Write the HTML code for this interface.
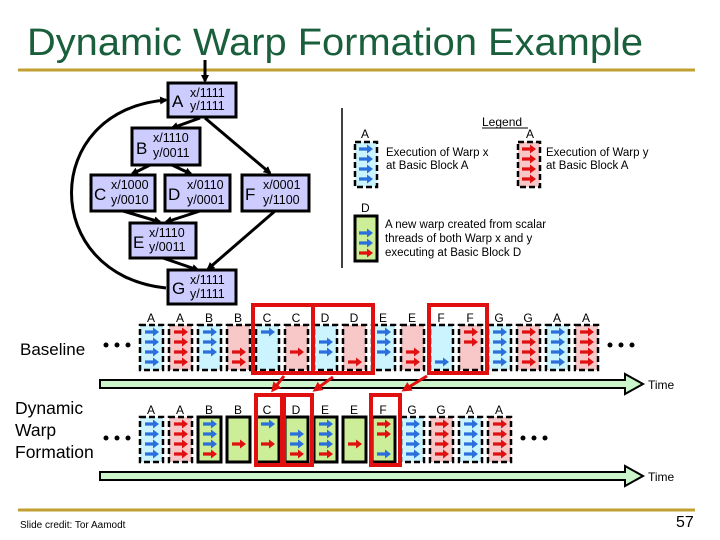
<!DOCTYPE html>
<html><head><meta charset="utf-8"><style>
html,body{margin:0;padding:0;background:#fff;}
svg{display:block;font-family:"Liberation Sans",Arial,sans-serif;}
</style></head><body>
<svg width="720" height="540" viewBox="0 0 720 540" xmlns="http://www.w3.org/2000/svg">
<defs>
<path id="ab" d="M0,-1.6 H8 V-4.5 L14,0 L8,4.5 V1.6 H0 Z" fill="#2a6fdc"/>
<path id="ar" d="M0,-1.6 H8 V-4.5 L14,0 L8,4.5 V1.6 H0 Z" fill="#e01010"/>
<marker id="mk" markerWidth="8" markerHeight="8" refX="6" refY="4" orient="auto" markerUnits="userSpaceOnUse"><path d="M0,0 L8,4 L0,8 Z" fill="#000"/></marker>
<marker id="mr" markerWidth="10" markerHeight="10" refX="7" refY="5" orient="auto" markerUnits="userSpaceOnUse"><path d="M0,0 L10,5 L0,10 Z" fill="#e01010"/></marker>
</defs>
<text x="27" y="55" font-size="38" fill="#1a5f3c" textLength="616" lengthAdjust="spacingAndGlyphs">Dynamic Warp Formation Example</text>
<line x1="18" y1="70" x2="695" y2="70" stroke="#c0a030" stroke-width="3"/>
<line x1="18" y1="510" x2="695" y2="510" stroke="#c0a030" stroke-width="3"/>
<text x="20" y="528" font-size="10">Slide credit: Tor Aamodt</text>
<text x="676" y="527" font-size="16">57</text>

<g stroke="#000" stroke-width="3" fill="none" marker-end="url(#mk)">
<line x1="205" y1="60" x2="205" y2="81"/>
<line x1="200" y1="118" x2="172" y2="128"/>
<line x1="205" y1="118" x2="270" y2="173"/>
<line x1="150" y1="165" x2="132" y2="174"/>
<line x1="172" y1="165" x2="191" y2="174"/>
<line x1="123" y1="211" x2="160" y2="222"/>
<line x1="200" y1="211" x2="166" y2="222"/>
<line x1="275" y1="211" x2="208" y2="269"/>
<line x1="163" y1="258" x2="198" y2="270"/>
<path d="M166,288 C40,275 40,110 166,100"/>
</g>
<g fill="#ccccff" stroke="#000" stroke-width="3">
<rect x="168" y="83" width="68" height="34"/>
<rect x="132" y="128" width="68" height="37"/>
<rect x="91" y="175" width="64" height="36"/>
<rect x="165" y="175" width="65" height="36"/>
<rect x="242" y="175" width="67" height="36"/>
<rect x="130" y="223" width="66" height="35"/>
<rect x="168" y="270" width="68" height="34"/>
</g>
<g font-size="17">
<text x="172" y="107">A</text><text x="136" y="154">B</text><text x="94" y="200">C</text>
<text x="168" y="200">D</text><text x="245" y="200">F</text><text x="133" y="248">E</text><text x="172" y="294">G</text>
</g>
<g font-size="12.5">
<text x="190" y="97">x/1111</text><text x="190" y="110">y/1111</text>
<text x="153" y="142">x/1110</text><text x="153" y="157">y/0011</text>
<text x="111" y="189">x/1000</text><text x="111" y="204">y/0010</text>
<text x="187" y="189">x/0110</text><text x="187" y="204">y/0001</text>
<text x="263" y="189">x/0001</text><text x="263" y="204">y/1100</text>
<text x="149" y="237">x/1110</text><text x="149" y="251">y/0011</text>
<text x="190" y="284">x/1111</text><text x="190" y="298">y/1111</text>
</g>

<line x1="342" y1="108" x2="342" y2="268" stroke="#000" stroke-width="1.5"/>
<text x="482" y="126" font-size="12">Legend</text>
<line x1="482" y1="128" x2="528" y2="128" stroke="#000" stroke-width="1"/>
<text x="361" y="138" font-size="12">A</text>
<rect x="355" y="142" width="22" height="45" fill="#ccf4ff" stroke="#000" stroke-width="2.5" stroke-dasharray="6,3"/>
<use href="#ab" x="359" y="149"/><use href="#ab" x="359" y="159"/><use href="#ab" x="359" y="169"/><use href="#ab" x="359" y="179"/>
<text x="386" y="156" font-size="11.5">Execution of Warp x</text><text x="386" y="169" font-size="11.5">at Basic Block A</text>
<text x="526" y="138" font-size="12">A</text>
<rect x="518" y="142" width="22" height="45" fill="#f8c8c8" stroke="#000" stroke-width="2.5" stroke-dasharray="6,3"/>
<use href="#ar" x="522" y="149"/><use href="#ar" x="522" y="159"/><use href="#ar" x="522" y="169"/><use href="#ar" x="522" y="179"/>
<text x="546" y="156" font-size="11.5">Execution of Warp y</text><text x="546" y="169" font-size="11.5">at Basic Block A</text>
<text x="361" y="212" font-size="12">D</text>
<rect x="355" y="216" width="22" height="45" fill="#ccee99" stroke="#000" stroke-width="3"/>
<use href="#ab" x="359" y="233"/><use href="#ab" x="359" y="243"/><use href="#ar" x="359" y="253"/>
<text x="385" y="228" font-size="11.5">A new warp created from scalar</text>
<text x="385" y="242" font-size="11.5">threads of both Warp x and y</text>
<text x="385" y="256" font-size="11.5">executing at Basic Block D</text>

<text x="20" y="355" font-size="17">Baseline</text>
<text x="15" y="414" font-size="17.5">Dynamic</text><text x="15" y="436" font-size="17.5">Warp</text><text x="15" y="458" font-size="17.5">Formation</text>
<g fill="#000">
<circle cx="106" cy="345" r="2.5"/><circle cx="117" cy="345" r="2.5"/><circle cx="128" cy="345" r="2.5"/>
<circle cx="610" cy="345" r="2.5"/><circle cx="621" cy="345" r="2.5"/><circle cx="632" cy="345" r="2.5"/>
<circle cx="106" cy="438" r="2.5"/><circle cx="117" cy="438" r="2.5"/><circle cx="128" cy="438" r="2.5"/>
<circle cx="523" cy="438" r="2.5"/><circle cx="534" cy="438" r="2.5"/><circle cx="545" cy="438" r="2.5"/>
</g>

<polygon points="100,380 625,380 625,374 643,384 625,394 625,388 100,388" fill="#ccf5cc" stroke="#000" stroke-width="2"/>
<text x="648" y="389" font-size="12">Time</text>
<polygon points="100,472 625,472 625,466 643,476 625,486 625,480 100,480" fill="#ccf5cc" stroke="#000" stroke-width="2"/>
<text x="648" y="481" font-size="12">Time</text>

<g font-size="12" text-anchor="middle">
<text x="151" y="322">A</text><text x="180" y="322">A</text><text x="209" y="322">B</text><text x="238" y="322">B</text>
<text x="267" y="322">C</text><text x="296" y="322">C</text><text x="325" y="322">D</text><text x="354" y="322">D</text>
<text x="383" y="322">E</text><text x="412" y="322">E</text><text x="441" y="322">F</text><text x="470" y="322">F</text>
<text x="499" y="322">G</text><text x="528" y="322">G</text><text x="557" y="322">A</text><text x="586" y="322">A</text>
</g>
<g stroke="#000" stroke-width="2.5" stroke-dasharray="6,3">
<rect x="140" y="325" width="23" height="45" fill="#ccf4ff"/>
<rect x="169" y="325" width="23" height="45" fill="#f8c8c8"/>
<rect x="198" y="325" width="23" height="45" fill="#ccf4ff"/>
<rect x="227" y="325" width="23" height="45" fill="#f8c8c8"/>
<rect x="256" y="325" width="23" height="45" fill="#ccf4ff"/>
<rect x="285" y="325" width="23" height="45" fill="#f8c8c8"/>
<rect x="314" y="325" width="23" height="45" fill="#ccf4ff"/>
<rect x="343" y="325" width="23" height="45" fill="#f8c8c8"/>
<rect x="372" y="325" width="23" height="45" fill="#ccf4ff"/>
<rect x="401" y="325" width="23" height="45" fill="#f8c8c8"/>
<rect x="430" y="325" width="23" height="45" fill="#ccf4ff"/>
<rect x="459" y="325" width="23" height="45" fill="#f8c8c8"/>
<rect x="488" y="325" width="23" height="45" fill="#ccf4ff"/>
<rect x="517" y="325" width="23" height="45" fill="#f8c8c8"/>
<rect x="546" y="325" width="23" height="45" fill="#ccf4ff"/>
<rect x="575" y="325" width="23" height="45" fill="#f8c8c8"/>
</g>
<g>
<use href="#ab" x="145" y="332"/><use href="#ab" x="145" y="342"/><use href="#ab" x="145" y="352"/><use href="#ab" x="145" y="362"/>
<use href="#ar" x="174" y="332"/><use href="#ar" x="174" y="342"/><use href="#ar" x="174" y="352"/><use href="#ar" x="174" y="362"/>
<use href="#ab" x="203" y="332"/><use href="#ab" x="203" y="342"/><use href="#ab" x="203" y="352"/>
<use href="#ar" x="232" y="352"/><use href="#ar" x="232" y="362"/>
<use href="#ab" x="261" y="332"/>
<use href="#ar" x="290" y="352"/>
<use href="#ab" x="319" y="342"/><use href="#ab" x="319" y="352"/>
<use href="#ar" x="348" y="362"/>
<use href="#ab" x="377" y="332"/><use href="#ab" x="377" y="342"/><use href="#ab" x="377" y="352"/>
<use href="#ar" x="406" y="352"/><use href="#ar" x="406" y="362"/>
<use href="#ab" x="435" y="362"/>
<use href="#ar" x="464" y="332"/><use href="#ar" x="464" y="342"/>
<use href="#ab" x="493" y="332"/><use href="#ab" x="493" y="342"/><use href="#ab" x="493" y="352"/><use href="#ab" x="493" y="362"/>
<use href="#ar" x="522" y="332"/><use href="#ar" x="522" y="342"/><use href="#ar" x="522" y="352"/><use href="#ar" x="522" y="362"/>
<use href="#ab" x="551" y="332"/><use href="#ab" x="551" y="342"/><use href="#ab" x="551" y="352"/><use href="#ab" x="551" y="362"/>
<use href="#ar" x="580" y="332"/><use href="#ar" x="580" y="342"/><use href="#ar" x="580" y="352"/><use href="#ar" x="580" y="362"/>
</g>

<g font-size="12" text-anchor="middle">
<text x="151" y="414">A</text><text x="180" y="414">A</text><text x="209" y="414">B</text><text x="238" y="414">B</text>
<text x="267" y="414">C</text><text x="296" y="414">D</text><text x="325" y="414">E</text><text x="354" y="414">E</text>
<text x="383" y="414">F</text><text x="412" y="414">G</text><text x="441" y="414">G</text><text x="470" y="414">A</text><text x="499" y="414">A</text>
</g>
<g stroke="#000" stroke-width="2.5" stroke-dasharray="6,3">
<rect x="140" y="417" width="23" height="45" fill="#ccf4ff"/>
<rect x="169" y="417" width="23" height="45" fill="#f8c8c8"/>
<rect x="401" y="417" width="23" height="45" fill="#ccf4ff"/>
<rect x="430" y="417" width="23" height="45" fill="#f8c8c8"/>
<rect x="459" y="417" width="23" height="45" fill="#ccf4ff"/>
<rect x="488" y="417" width="23" height="45" fill="#f8c8c8"/>
</g>
<g stroke="#000" stroke-width="3" fill="#ccee99">
<rect x="198" y="417" width="23" height="45"/>
<rect x="227" y="417" width="23" height="45"/>
<rect x="256" y="417" width="23" height="45"/>
<rect x="285" y="417" width="23" height="45"/>
<rect x="314" y="417" width="23" height="45"/>
<rect x="343" y="417" width="23" height="45"/>
<rect x="372" y="417" width="23" height="45"/>
</g>
<g>
<use href="#ab" x="145" y="424"/><use href="#ab" x="145" y="434"/><use href="#ab" x="145" y="444"/><use href="#ab" x="145" y="454"/>
<use href="#ar" x="174" y="424"/><use href="#ar" x="174" y="434"/><use href="#ar" x="174" y="444"/><use href="#ar" x="174" y="454"/>
<use href="#ab" x="203" y="424"/><use href="#ab" x="203" y="434"/><use href="#ab" x="203" y="444"/><use href="#ar" x="203" y="454"/>
<use href="#ar" x="232" y="444"/>
<use href="#ab" x="261" y="424"/><use href="#ar" x="261" y="444"/>
<use href="#ab" x="290" y="434"/><use href="#ab" x="290" y="444"/><use href="#ar" x="290" y="454"/>
<use href="#ab" x="319" y="424"/><use href="#ab" x="319" y="434"/><use href="#ab" x="319" y="444"/><use href="#ar" x="319" y="454"/>
<use href="#ar" x="348" y="444"/>
<use href="#ar" x="377" y="424"/><use href="#ar" x="377" y="434"/><use href="#ab" x="377" y="454"/>
<use href="#ab" x="406" y="424"/><use href="#ab" x="406" y="434"/><use href="#ab" x="406" y="444"/><use href="#ab" x="406" y="454"/>
<use href="#ar" x="435" y="424"/><use href="#ar" x="435" y="434"/><use href="#ar" x="435" y="444"/><use href="#ar" x="435" y="454"/>
<use href="#ab" x="464" y="424"/><use href="#ab" x="464" y="434"/><use href="#ab" x="464" y="444"/><use href="#ab" x="464" y="454"/>
<use href="#ar" x="493" y="424"/><use href="#ar" x="493" y="434"/><use href="#ar" x="493" y="444"/><use href="#ar" x="493" y="454"/>
</g>

<g fill="none" stroke="#e01010" stroke-width="4">
<rect x="253" y="305" width="60" height="68"/>
<rect x="313" y="305" width="60" height="68"/>
<rect x="429" y="305" width="58" height="68"/>
<rect x="256" y="395" width="26" height="70"/>
<rect x="284" y="395" width="28" height="70"/>
<rect x="371" y="395" width="29" height="70"/>
</g>
<g stroke="#e01010" stroke-width="3" marker-end="url(#mr)">
<line x1="284" y1="376" x2="273" y2="390"/>
<line x1="333" y1="377" x2="315" y2="390"/>
<line x1="427" y1="376" x2="404" y2="390"/>
</g>
</svg>
</body></html>
